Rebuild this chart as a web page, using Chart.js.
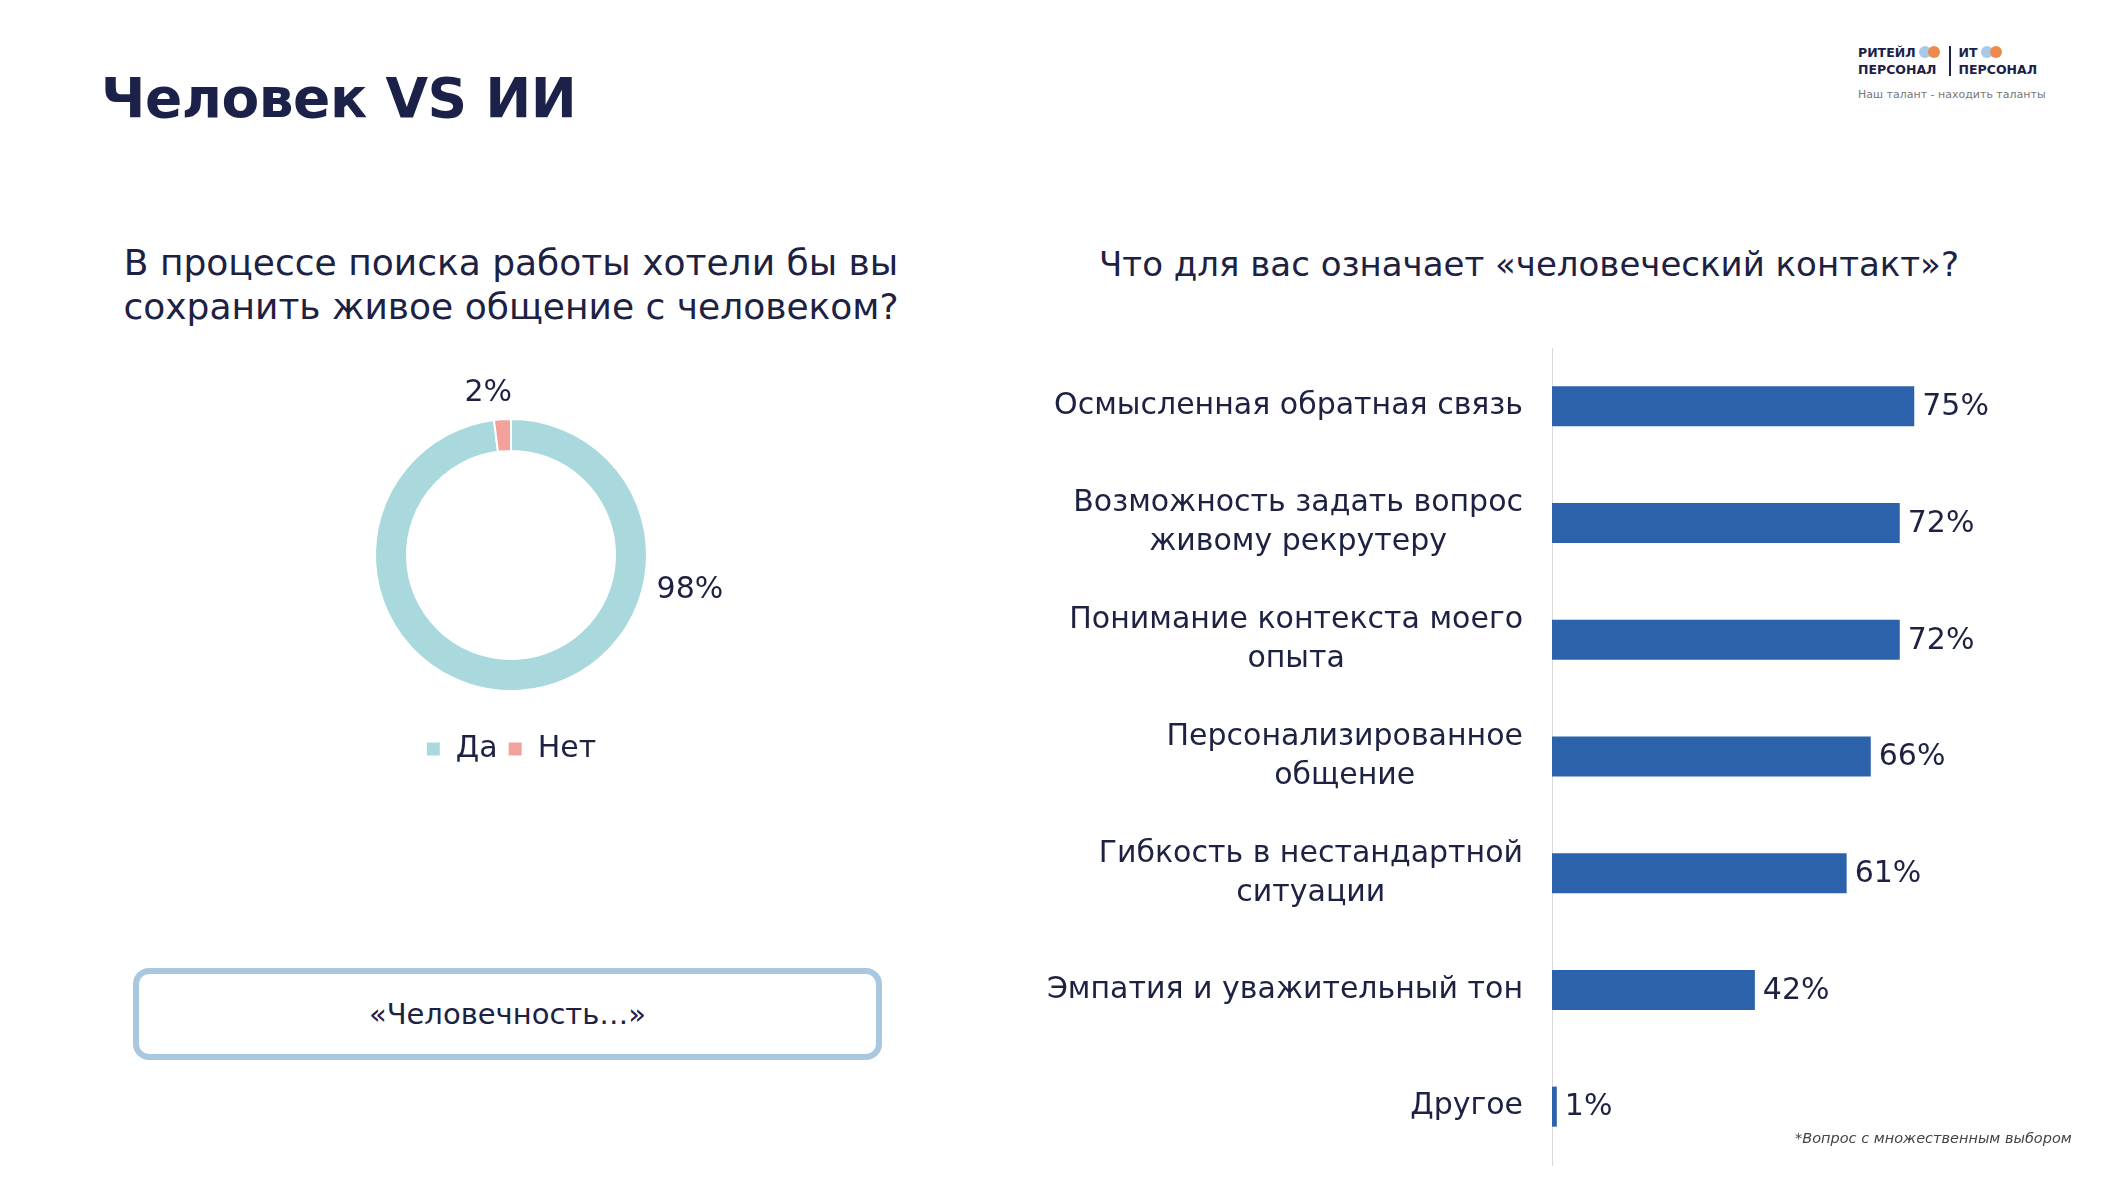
<!DOCTYPE html>
<html lang="ru">
<head>
<meta charset="utf-8">
<script src="https://cdn.jsdelivr.net/npm/chart.js@4.4.1/dist/chart.umd.min.js"></script>
<style>
  html, body { margin: 0; padding: 0; background: #fff; }
  body { width: 2111px; height: 1187px; position: relative; overflow: hidden;
         font-family: "DejaVu Sans", sans-serif; color: #1d2142; }
  .abs { position: absolute; }
  #title { left: 101px; top: 66px; font: bold 55px "DejaVu Sans", sans-serif; color: #1b2149; letter-spacing: -0.5px; }
  .sub { line-height: 44px; text-align: center; }
  #subLeft { left: 60px; width: 902px; top: 241px; font-size: 36px; }
  #subRight { left: 1080px; width: 898px; top: 242px; font-size: 34px; }
  #quote { left: 133px; top: 968px; width: 737px; height: 80px; border: 6px solid #a9c7de;
           border-radius: 16px; display: flex; align-items: center; justify-content: center;
           font-size: 29px; }
  #note { left: 1795px; top: 1130px; font-size: 14.5px; font-style: italic; color: #444; }
  #logo { left: 1858px; top: 44px; }
  .lg { font: bold 12.5px "DejaVu Sans", sans-serif; color: #1b2149; line-height: 17px; }
  .pill { display: inline-block; position: relative; width: 22px; height: 12px; vertical-align: -1px; margin-left: 3px; }
  .pill i { position: absolute; top: 0; width: 12px; height: 12px; border-radius: 50%; }
  .tag { font-size: 11px; color: #777; margin-top: 10px; }
</style>
</head>
<body>
<div id="title" class="abs">Человек VS ИИ</div>
<div id="subLeft" class="abs sub">В процессе поиска работы хотели бы вы<br>сохранить живое общение с человеком?</div>
<div id="subRight" class="abs sub">Что для вас означает «человеческий контакт»?</div>

<div id="logo" class="abs">
  <div style="display:flex;align-items:center">
    <div class="lg">РИТЕЙЛ<span class="pill"><i style="left:0;background:#a9c9e6"></i><i style="left:9px;background:#ef8a4f"></i></span><br>ПЕРСОНАЛ</div>
    <div style="width:2px;height:30px;background:#1b2149;margin:0 8px"></div>
    <div class="lg">ИТ<span class="pill"><i style="left:0;background:#a9c9e6"></i><i style="left:9px;background:#ef8a4f"></i></span><br>ПЕРСОНАЛ</div>
  </div>
  <div class="tag">Наш талант - находить таланты</div>
</div>

<canvas id="donut" class="abs" style="left:211px;top:360px;width:600px;height:414px" width="600" height="414"></canvas>
<canvas id="bars" class="abs" style="left:1000px;top:300px;width:1111px;height:880px" width="1111" height="880"></canvas>

<div id="quote" class="abs">«Человечность…»</div>
<div id="note" class="abs">*Вопрос с множественным выбором</div>

<script>
// Левая диаграмма: живое общение
const donutLabels = ['Да', 'Нет'];
const donutValues = [98, 2];
const donutColors = ['#a9d9dd', '#f3a29b'];

// Правая диаграмма: что означает человеческий контакт
const barLabels = [
  ['Осмысленная обратная связь'],
  ['Возможность задать вопрос', 'живому рекрутеру'],
  ['Понимание контекста моего', 'опыта'],
  ['Персонализированное', 'общение'],
  ['Гибкость в нестандартной', 'ситуации'],
  ['Эмпатия и уважительный тон'],
  ['Другое']
];
const barValues = [75, 72, 72, 66, 61, 42, 1];

const textColor = '#1d2142';
const baseFont = '"DejaVu Sans", sans-serif';
Chart.defaults.font.family = baseFont;
Chart.defaults.color = textColor;

// подписи процентов у сегментов кольца
const donutValueLabels = {
  id: 'donutValueLabels',
  afterDatasetsDraw(chart) {
    const ctx = chart.ctx;
    const meta = chart.getDatasetMeta(0);
    // угол (от 12 часов по часовой) и удаление в радиусах для каждой подписи
    const place = [[101, 1.34], [-8, 1.2]];
    ctx.save();
    ctx.font = '30px ' + baseFont;
    ctx.fillStyle = textColor;
    ctx.textAlign = 'center';
    ctx.textBaseline = 'middle';
    meta.data.forEach((arc, i) => {
      const a = place[i][0] * Math.PI / 180;
      const r = arc.outerRadius * place[i][1];
      ctx.fillText(donutValues[i] + '%', arc.x + r * Math.sin(a), arc.y - r * Math.cos(a));
    });
    ctx.restore();
  }
};

new Chart(document.getElementById('donut'), {
  type: 'doughnut',
  data: {
    labels: donutLabels,
    datasets: [{
      data: donutValues,
      backgroundColor: donutColors,
      borderColor: '#fff',
      borderWidth: 2,
      radius: 136,
      cutout: '76.5%'
    }]
  },
  options: {
    responsive: false,
    animation: false,
    layout: { padding: { top: 26 } },
    plugins: {
      legend: {
        position: 'bottom',
        labels: { boxWidth: 15, boxHeight: 15, padding: 10, color: textColor, font: { size: 30 } }
      },
      tooltip: { enabled: false }
    }
  },
  plugins: [donutValueLabels]
});

// подписи категорий (блок по правому краю, строки по центру) и значения у столбцов
const barText = {
  id: 'barText',
  afterDatasetsDraw(chart) {
    const ctx = chart.ctx;
    const yScale = chart.scales.y;
    const lineH = 39;
    ctx.save();
    ctx.font = '30px ' + baseFont;
    ctx.fillStyle = textColor;
    ctx.textBaseline = 'middle';
    ctx.textAlign = 'center';
    barLabels.forEach((lines, i) => {
      const y = yScale.getPixelForTick(i);
      const w = Math.max(...lines.map(l => ctx.measureText(l).width));
      const cx = chart.chartArea.left - 29 - w / 2;
      const y0 = y - (lines.length - 1) * lineH / 2;
      lines.forEach((l, k) => ctx.fillText(l, cx, y0 + k * lineH));
    });
    ctx.textAlign = 'left';
    chart.getDatasetMeta(0).data.forEach((bar, i) => {
      ctx.fillText(barValues[i] + '%', bar.x + 8, bar.y + 1);
    });
    ctx.restore();
  }
};

new Chart(document.getElementById('bars'), {
  type: 'bar',
  data: {
    labels: barLabels,
    datasets: [{
      data: barValues,
      backgroundColor: '#2c62ab',
      barPercentage: 0.343,
      categoryPercentage: 1
    }]
  },
  options: {
    indexAxis: 'y',
    responsive: false,
    animation: false,
    layout: { padding: { top: 48, bottom: 15, right: 76 } },
    plugins: { legend: { display: false }, tooltip: { enabled: false } },
    scales: {
      x: { min: 0, max: 100, display: false },
      y: {
        grid: { display: false, drawTicks: false },
        border: { display: true, color: '#d9d9d9', width: 1 },
        ticks: { display: false },
        afterFit(scale) { scale.width = 552; }
      }
    }
  },
  plugins: [barText]
});
</script>
</body>
</html>
